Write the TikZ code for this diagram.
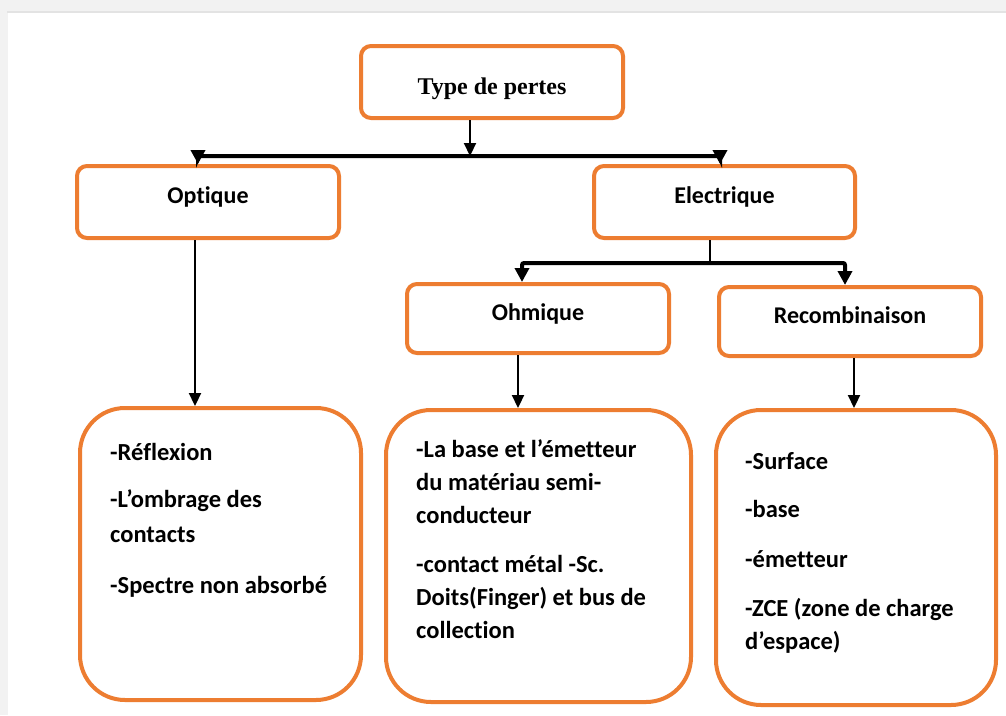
\documentclass[tikz,border=0pt]{standalone}
\usepackage{fontspec}
\setmainfont[Ligatures=NoCommon]{Carlito}
\newfontfamily\serifhead{Liberation Serif}
\usetikzlibrary{arrows.meta,calc}
\definecolor{boxorange}{HTML}{ED7D31}
\definecolor{framegray}{HTML}{F2F2F2}
\definecolor{frameline}{HTML}{E3E3E3}
\tikzset{
  catbox/.style={draw=boxorange, line width=4pt, rounded corners=10pt, fill=white,
    minimum width=262pt, minimum height=72pt, inner sep=0pt,
    text height=15pt, text depth=12pt,
    font=\bfseries\fontsize{24}{28}\selectfont},
  listbox/.style={draw=boxorange, line width=4pt, rounded corners=45pt, fill=white, inner sep=0pt},
  listtext/.style={anchor=north west, inner sep=0pt, align=left},
  link/.style={line width=2.2pt, -{Triangle[width=12pt,length=13pt]}},
  busarrow/.style={line width=4pt, {Triangle[width=14pt,length=14pt]}-{Triangle[width=14pt,length=14pt]}},
}
\begin{document}
\begin{tikzpicture}[x=1pt,y=-1pt]
  % page frame
  \fill[framegray] (0,0) rectangle (1006,715);
  \fill[frameline] (7,11) rectangle (1006,13);
  \fill[white] (8,13) rectangle (1006,715);
  \useasboundingbox (0,0) rectangle (1006,715);

  % category boxes
  \node[catbox, text height=28pt, text depth=4pt,
        font=\serifhead\bfseries\fontsize{24}{28}\selectfont] (top) at (492,82) {Type de pertes};
  \node[catbox] (opt) at (208,202) {Optique};
  \node[catbox, minimum width=261pt] (ele) at (724.5,202) {Electrique};
  \node[catbox, minimum height=69pt] (ohm) at (538,318.5) {Ohmique};
  \node[catbox, minimum height=69pt] (rec) at (850,321.5) {Recombinaison};

  % detail boxes
  \node[listbox, minimum width=281pt, minimum height=292pt] (b1) at (220.5,554) {};
  \node[listbox, minimum width=305pt, minimum height=292pt] (b2) at (538.5,556) {};
  \node[listbox, minimum width=280pt, minimum height=295pt] (b3) at (856,557.5) {};

  \node[listtext, font=\bfseries\fontsize{24.5}{35}\selectfont] (t1) at (110,443)
    {-Réflexion\\[12pt]-L’ombrage des\\contacts\\[16pt]-Spectre non absorbé};
  \node[listtext, font=\bfseries\fontsize{24.5}{33}\selectfont] (t2) at (416,439)
    {-La base et l’émetteur\\du matériau semi-\\conducteur\\[16pt]-contact métal -Sc.\\Doits(Finger) et bus de\\collection};
  \node[listtext, font=\bfseries\fontsize{24.5}{33}\selectfont] (t3) at (745,452)
    {-Surface\\[15pt]-base\\[17pt]-émetteur\\[16pt]-ZCE (zone de charge\\d’espace)};

  % first split
  \coordinate (j1) at (470,156);
  \draw[link] (top.south -| j1) -- (j1);
  \draw[busarrow, rounded corners=2pt] ([xshift=-10pt]opt.north) |- (j1) -| ([xshift=-4.5pt]ele.north);

  % second split
  \coordinate (j2) at (710,263);
  \draw[line width=2.5pt] (ele.south -| j2) -- (j2);
  \draw[busarrow, rounded corners=2pt] ([xshift=-16pt]ohm.north) |- (j2) -| ([xshift=-5pt]rec.north);

  % links down to the detail boxes
  \draw[link] ([xshift=-13pt]opt.south) -- ([xshift=-13pt]opt.south |- b1.north);
  \draw[link] ([xshift=-20pt]ohm.south) -- ([xshift=-20pt]ohm.south |- b2.north);
  \draw[link] ([xshift=4pt]rec.south) -- ([xshift=4pt]rec.south |- b3.north);
\end{tikzpicture}
\end{document}
